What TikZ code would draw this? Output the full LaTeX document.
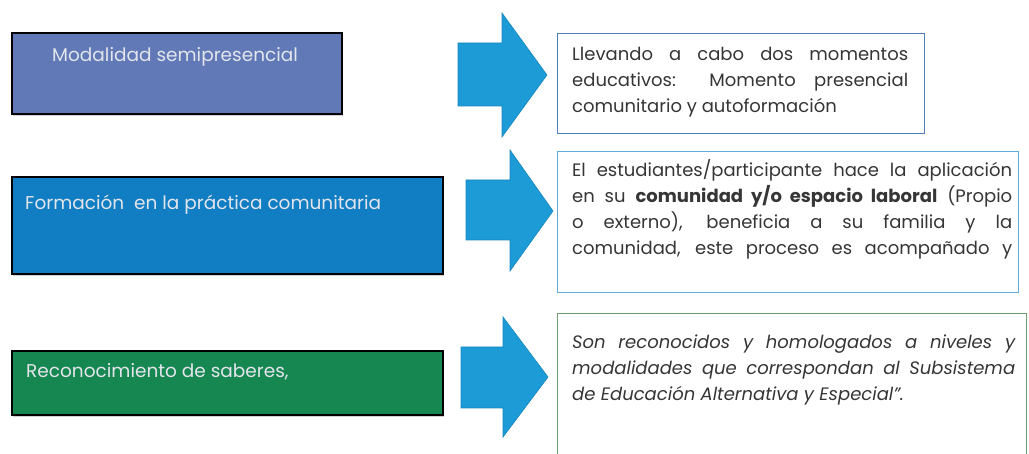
\documentclass[tikz,border=0pt]{standalone}
\usepackage{fontspec}
\setmainfont{Poppins}
\usetikzlibrary{shadows}
\definecolor{cA}{HTML}{6179B6}
\definecolor{cB}{HTML}{117DC2}
\definecolor{cC}{HTML}{168750}
\definecolor{ltxt}{HTML}{E2E5EC}
\definecolor{rtxt}{HTML}{363636}
\definecolor{bA}{HTML}{4E7DBA}
\definecolor{bB}{HTML}{62AADA}
\definecolor{bC}{HTML}{6E9E72}
\definecolor{arr}{HTML}{1C9BD6}
\definecolor{arrd}{HTML}{1887BC}
\tikzset{
  leftbox/.style={draw=black, line width=1.8pt, anchor=north west, inner sep=0pt,
    drop shadow={shadow xshift=1.5pt, shadow yshift=-2pt, opacity=0.35}},
  lefttext/.style={anchor=west, inner sep=0pt, text=ltxt, font=\fontsize{18.5}{22}\selectfont},
  rightbox/.style={line width=1.4pt, anchor=north west, inner sep=0pt, fill=white},
  righttext/.style={anchor=north west, inner sep=0pt, text=rtxt, align=justify,
    font=\fontsize{18}{26}\selectfont}
}
\tikzset{blockarrow/.style={fill=arr, draw=arrd, line width=0.6pt, line join=miter}}
\begin{document}
\begin{tikzpicture}[x=1pt,y=-1pt]
\useasboundingbox (0,0) rectangle (1029,454);
\clip (0,0) rectangle (1029,454);
\fill[white] (0,0) rectangle (1029,454);

% left boxes
\node[leftbox, fill=cA, minimum width=330pt, minimum height=81pt] (m1) at (11,32) {};
\node[lefttext] (t1) at (52,57) {Modalidad semipresencial};
\node[leftbox, fill=cB, minimum width=431pt, minimum height=97pt] (m2) at (11,176) {};
\node[lefttext] (t2) at (25,205) {Formación\ \ en la práctica comunitaria};
\node[leftbox, fill=cC, minimum width=431pt, minimum height=64pt] (m3) at (11,350) {};
\node[lefttext] (t3) at (26,372) {Reconocimiento de saberes,};

% right boxes
\node[rightbox, draw=bA, minimum width=367pt, minimum height=100pt] (r1) at (557,33) {};
\node[righttext, text width=336pt] (x1) at (572,47)
  {Llevando a cabo dos momentos\linebreak
   educativos: Momento presencial\linebreak
   comunitario y autoformación};
\node[rightbox, draw=bB, minimum width=461pt, minimum height=141pt] (r2) at (557,151) {};
\node[righttext, text width=440pt] (x2) at (572,159)
  {{\parfillskip=0pt El estudiantes/participante hace la aplicación\linebreak
   en su \textbf{comunidad y/o espacio laboral} (Propio\linebreak
   o externo), beneficia a su familia y la\linebreak
   comunidad, este proceso es acompañado y\par}};
\node[rightbox, draw=bC, minimum width=469pt, minimum height=180pt] (r3) at (557,313) {};
\node[righttext, text width=443pt, font=\fontsize{18}{26}\selectfont\itshape] (x3) at (572,335)
  {Son reconocidos y homologados a niveles y\linebreak
   modalidades que correspondan al Subsistema\linebreak
   de Educación Alternativa y Especial”.};

% block arrows
\coordinate (a1) at (458,43);
\draw[blockarrow] (a1) -- (502,43) -- (502,13) -- (547,75) -- (502,137) -- (502,106) -- (458,106) -- cycle;
\coordinate (a2) at (466,180);
\draw[blockarrow] (a2) -- (510,180) -- (510,150) -- (553,211) -- (510,271) -- (510,240) -- (466,240) -- cycle;
\coordinate (a3) at (461,347);
\draw[blockarrow] (a3) -- (503,347) -- (503,317) -- (548,377) -- (503,437) -- (503,408) -- (461,408) -- cycle;
\end{tikzpicture}
\end{document}
